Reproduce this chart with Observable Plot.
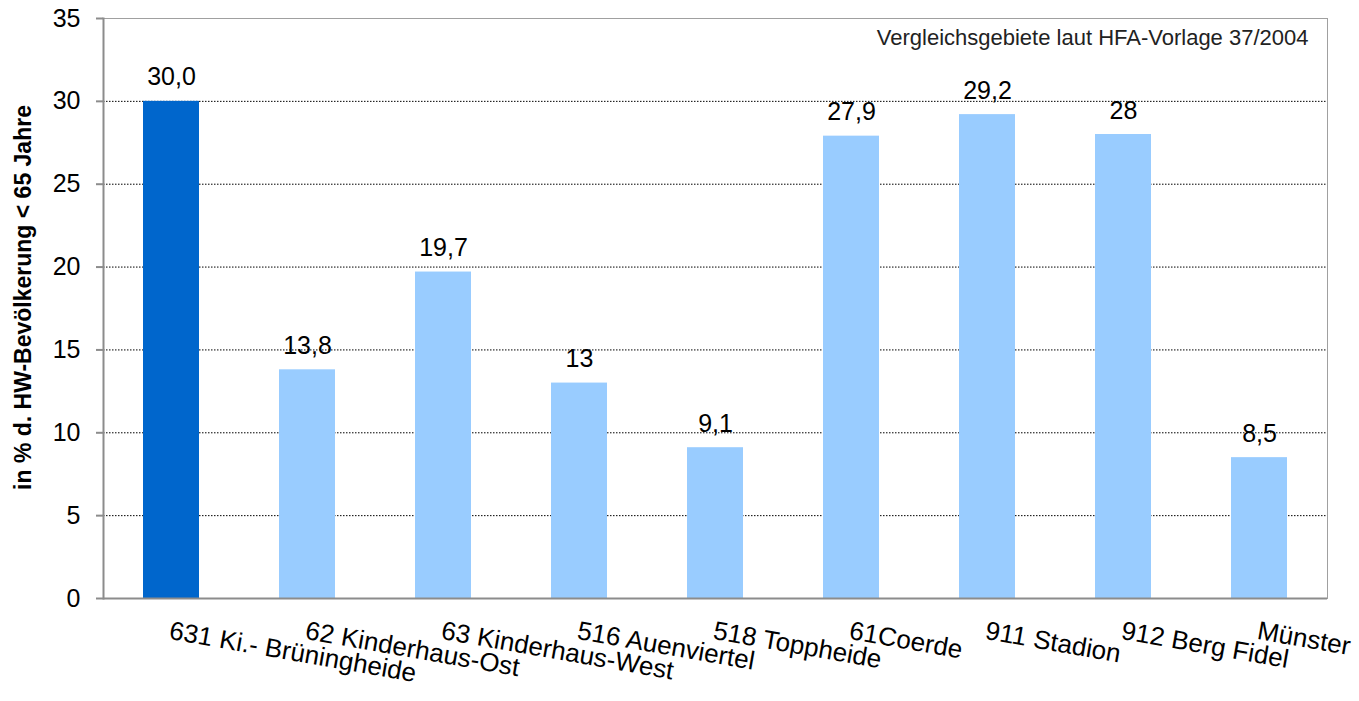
<!DOCTYPE html>
<html>
<head>
<meta charset="utf-8">
<script src="https://cdn.jsdelivr.net/npm/d3@7"></script>
<script src="https://cdn.jsdelivr.net/npm/@observablehq/plot@0.6"></script>
<style>
  html, body { margin: 0; padding: 0; background: #fff; }
  #chart svg { display: block; }
</style>
</head>
<body>
<div id="chart"></div>
<script>
const categories = [
  "631 Ki.- Brüningheide",
  "62 Kinderhaus-Ost",
  "63 Kinderhaus-West",
  "516 Auenviertel",
  "518 Toppheide",
  "61Coerde",
  "911 Stadion",
  "912 Berg Fidel",
  "Münster"
];
const values = [30.0, 13.8, 19.7, 13, 9.1, 27.9, 29.2, 28, 8.5];
const valueLabels = ["30,0", "13,8", "19,7", "13", "9,1", "27,9", "29,2", "28", "8,5"];
const yTicks = [0, 5, 10, 15, 20, 25, 30, 35];
const gridTicks = [5, 10, 15, 20, 25, 30];
const highlighted = "631 Ki.- Brüningheide";
const yTitle = "in % d. HW-Bevölkerung < 65 Jahre";
const note = "Vergleichsgebiete laut HFA-Vorlage 37/2004";

const data = categories.map((c, i) => ({cat: c, val: values[i], label: valueLabels[i]}));

const chart = Plot.plot({
  width: 1359,
  height: 701,
  marginTop: 18,
  marginRight: 32,
  marginBottom: 103,
  marginLeft: 103,
  style: {fontFamily: "'Liberation Sans', Arial, sans-serif", background: "#fff", color: "#000"},
  x: {domain: categories, paddingInner: 0.59, paddingOuter: 0.295, axis: null},
  y: {domain: [0, 35], axis: null},
  marks: [
    Plot.gridY(gridTicks, {stroke: "#000", strokeOpacity: 1, strokeWidth: 1, strokeDasharray: "1.5,1.5"}),
    Plot.frame({stroke: "#a0a0a0", strokeWidth: 1}),
    Plot.barY(data, {x: "cat", y: "val", fill: d => d.cat === highlighted ? "#0066cc" : "#99ccff"}),
    Plot.ruleY([0], {stroke: "#8c8c8c", strokeWidth: 2}),
    Plot.frame({anchor: "left", stroke: "#8c8c8c", strokeWidth: 2}),
    Plot.axisY(yTicks, {tickSize: 7, tickPadding: 16, fontSize: 25, stroke: "#8c8c8c", strokeWidth: 2, fill: "#000", label: null}),
    Plot.text(data, {x: "cat", y: "val", text: "label", lineAnchor: "bottom", dy: -16, fontSize: 25, fill: "#000"}),
    Plot.text(data, {x: "cat", text: "cat", frameAnchor: "bottom", dy: 22, rotate: 10, textAnchor: "start", lineAnchor: "top", fontSize: 26, fill: "#000"}),
    Plot.text([yTitle], {frameAnchor: "left", dx: -80, dy: -11, rotate: -90, textAnchor: "middle", lineAnchor: "middle", fontSize: 23, fontWeight: "bold", fill: "#000"}),
    Plot.text([note], {frameAnchor: "top-right", dx: -19, dy: 11, textAnchor: "end", lineAnchor: "top", fontSize: 22, fill: "#222"})
  ]
});
document.getElementById("chart").appendChild(chart);
</script>
</body>
</html>
